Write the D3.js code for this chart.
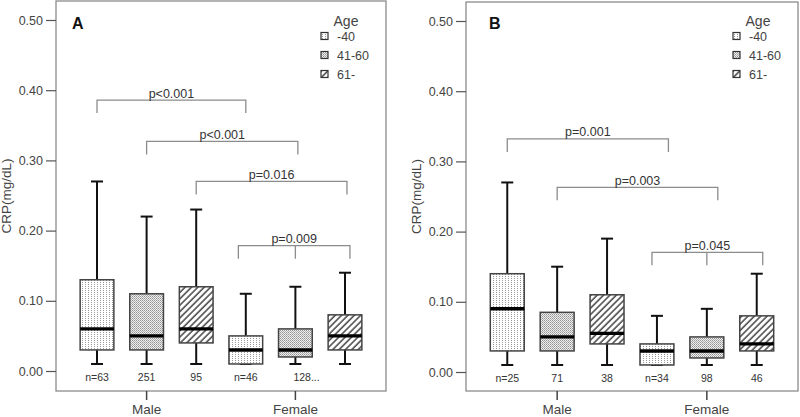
<!DOCTYPE html>
<html>
<head>
<meta charset="utf-8">
<script src="https://cdn.jsdelivr.net/npm/d3@7"></script>
<style>
  body { margin: 0; background: #fff; }
  svg { display: block; font-family: "Liberation Sans", Arial, sans-serif; }
</style>
</head>
<body>
<div id="chart"></div>
<script>
const sexes = ["Male", "Female"];
const ages = ["-40", "41-60", "61-"];
const yTicks = [0, 0.1, 0.2, 0.3, 0.4, 0.5];

// [min, q1, median, q3, max] for Male -40, 41-60, 61-, Female -40, 41-60, 61-
const statsA = [
    [0.01, 0.03, 0.06, 0.13, 0.27],
    [0.01, 0.03, 0.05, 0.11, 0.22],
    [0.01, 0.04, 0.06, 0.12, 0.23],
    [0.01, 0.01, 0.03, 0.05, 0.11],
    [0.01, 0.02, 0.03, 0.06, 0.12],
    [0.01, 0.03, 0.05, 0.08, 0.14]
];
const statsB = [
    [0.01, 0.03, 0.09, 0.14, 0.27],
    [0.01, 0.03, 0.05, 0.085, 0.15],
    [0.01, 0.04, 0.055, 0.11, 0.19],
    [0.01, 0.01, 0.03, 0.04, 0.08],
    [0.01, 0.02, 0.03, 0.05, 0.09],
    [0.01, 0.03, 0.04, 0.08, 0.14]
];
const nA = ["n=63", "251", "95", "n=46", "128...", ""];
const nB = ["n=25", "71", "38", "n=34", "98", "46"];

// brackets: ends in box index units, level in CRP units
const bracketsA = [
    { label: "p<0.001", ends: [0, 3], level: 0.386 },
    { label: "p<0.001", ends: [1, 4.05], level: 0.327 },
    { label: "p=0.016", ends: [2, 5.04], level: 0.270 },
    { label: "p=0.009", ends: [2.85, 4, 5.1], level: 0.1785 }
];
const bracketsB = [
    { label: "p=0.001", ends: [0, 3.23], level: 0.332 },
    { label: "p=0.003", ends: [1, 4.22], level: 0.263 },
    { label: "p=0.045", ends: [2.9, 4, 5.12], level: 0.1705 }
];

const width = 800, height = 417;

const svg = d3.select("#chart").append("svg")
    .attr("width", width)
    .attr("height", height);

svg.append("rect").attr("width", width).attr("height", height).attr("fill", "#fff");

// fill patterns
const defs = svg.append("defs");

const p1 = defs.append("pattern")
    .attr("id", "pat-40")
    .attr("patternUnits", "userSpaceOnUse")
    .attr("width", 3).attr("height", 2);
p1.append("rect").attr("width", 3).attr("height", 2).attr("fill", "#fff");
p1.append("rect").attr("x", 1).attr("y", 0).attr("width", 1).attr("height", 1).attr("fill", "#9a9a9a");

const p2 = defs.append("pattern")
    .attr("id", "pat-4160")
    .attr("patternUnits", "userSpaceOnUse")
    .attr("width", 2).attr("height", 2);
p2.append("rect").attr("width", 2).attr("height", 2).attr("fill", "#eeeeee");
p2.append("rect").attr("x", 0).attr("y", 0).attr("width", 1).attr("height", 1).attr("fill", "#939393");
p2.append("rect").attr("x", 1).attr("y", 1).attr("width", 1).attr("height", 1).attr("fill", "#b0b0b0");

const p3 = defs.append("pattern")
    .attr("id", "pat-61")
    .attr("patternUnits", "userSpaceOnUse")
    .attr("width", 4.5).attr("height", 4.5)
    .attr("patternTransform", "rotate(45)");
p3.append("rect").attr("width", 4.5).attr("height", 4.5).attr("fill", "#fff");
p3.append("line")
    .attr("x1", 1).attr("y1", 0).attr("x2", 1).attr("y2", 4.5)
    .attr("stroke", "#444").attr("stroke-width", 1.5);

const ageFill = { "-40": "url(#pat-40)", "41-60": "url(#pat-4160)", "61-": "url(#pat-61)" };

const panels = [
    { name: "A", stats: statsA, n: nA, brackets: bracketsA,
      left: 56, right: 386, top: 1, bottom: 391, yZero: 371, yTop: 20, nameDx: 16, axisLabelX: 11 },
    { name: "B", stats: statsB, n: nB, brackets: bracketsB,
      left: 466, right: 798, top: 2, bottom: 391, yZero: 372, yTop: 21, nameDx: 23, axisLabelX: 421 }
];

panels.forEach(drawPanel);

function drawPanel(p) {
    const g = svg.append("g");

    const y = d3.scaleLinear().domain([0, 0.5]).range([p.yZero, p.yTop]);

    const x0 = d3.scaleBand().domain(sexes).range([p.left, p.right])
        .paddingInner(0).paddingOuter(0.109);
    const x1 = d3.scaleBand().domain(ages).range([0, x0.bandwidth()])
        .paddingInner(0.32).paddingOuter(0.16);

    const boxes = [];
    sexes.forEach((s, si) => {
        ages.forEach((a, ai) => {
            const i = si * ages.length + ai;
            const st = p.stats[i];
            boxes.push({ sex: s, age: a, n: p.n[i],
                min: st[0], q1: st[1], med: st[2], q3: st[3], max: st[4] });
        });
    });
    const cx = d => x0(d.sex) + x1(d.age) + x1.bandwidth() / 2;
    const idx = d3.scaleLinear().domain([0, boxes.length - 1])
        .range([cx(boxes[0]), cx(boxes[boxes.length - 1])]);

    // frame
    g.append("rect")
        .attr("x", p.left).attr("y", p.top)
        .attr("width", p.right - p.left).attr("height", p.bottom - p.top)
        .attr("fill", "none").attr("stroke", "#8c8c8c").attr("stroke-width", 1.3);

    // y axis
    const yAxis = g.append("g")
        .attr("transform", `translate(${p.left},0)`)
        .call(d3.axisLeft(y).tickValues(yTicks).tickFormat(d3.format(".2f")).tickSize(10).tickPadding(3));
    yAxis.select(".domain").remove();
    yAxis.selectAll(".tick line").attr("stroke", "#555").attr("stroke-width", 1.2);
    yAxis.selectAll(".tick text")
        .attr("fill", "#444")
        .style("font-size", "12.5px")
        .style("font-family", "'Liberation Sans', Arial, sans-serif");

    g.append("text")
        .attr("transform", `translate(${p.axisLabelX},${(p.top + p.bottom) / 2}) rotate(-90)`)
        .attr("text-anchor", "middle")
        .attr("fill", "#444")
        .style("font-size", "13.5px")
        .text("CRP(mg/dL)");

    // x axis
    const xAxis = g.append("g")
        .attr("transform", `translate(0,${p.bottom})`)
        .call(d3.axisBottom(x0).tickSize(9).tickPadding(4));
    xAxis.select(".domain").remove();
    xAxis.selectAll(".tick line").attr("stroke", "#444").attr("stroke-width", 1.5);
    xAxis.selectAll(".tick text")
        .attr("fill", "#444")
        .style("font-size", "13.5px")
        .style("font-family", "'Liberation Sans', Arial, sans-serif");

    // whiskers
    const bw = x1.bandwidth();
    const capW = 12;
    const bg = g.selectAll("g.box").data(boxes).join("g").attr("class", "box");

    bg.append("line")
        .attr("x1", cx).attr("x2", cx)
        .attr("y1", d => y(d.max)).attr("y2", d => y(d.min))
        .attr("stroke", "#111").attr("stroke-width", 2);
    bg.append("line")
        .attr("x1", d => cx(d) - capW / 2).attr("x2", d => cx(d) + capW / 2)
        .attr("y1", d => y(d.max)).attr("y2", d => y(d.max))
        .attr("stroke", "#111").attr("stroke-width", 2);
    bg.append("line")
        .attr("x1", d => cx(d) - capW / 2).attr("x2", d => cx(d) + capW / 2)
        .attr("y1", d => y(d.min)).attr("y2", d => y(d.min))
        .attr("stroke", "#111").attr("stroke-width", 2);

    bg.append("rect")
        .attr("x", d => cx(d) - bw / 2)
        .attr("y", d => y(d.q3))
        .attr("width", bw)
        .attr("height", d => y(d.q1) - y(d.q3))
        .attr("fill", d => ageFill[d.age])
        .attr("stroke", "#444").attr("stroke-width", 1.5);

    bg.append("line")
        .attr("x1", d => cx(d) - bw / 2).attr("x2", d => cx(d) + bw / 2)
        .attr("y1", d => y(d.med)).attr("y2", d => y(d.med))
        .attr("stroke", "#000").attr("stroke-width", 3.4);

    bg.append("text")
        .attr("x", d => d.n.endsWith("...") ? cx(d) - 2 : cx(d))
        .attr("y", y(0) + 9.5)
        .attr("text-anchor", d => d.n.endsWith("...") ? "start" : "middle")
        .attr("fill", "#333")
        .style("font-size", "10.5px")
        .text(d => d.n);

    // significance brackets
    const drop = 13;
    p.brackets.forEach(b => {
        const xs = b.ends.map(idx);
        const ly = y(b.level);
        const xl = xs[0], xr = xs[xs.length - 1];
        let path = `M${xl},${ly + drop}V${ly}H${xr}V${ly + drop}`;
        if (xs.length > 2) path += `M${xs[1]},${ly}V${ly + drop}`;
        g.append("path")
            .attr("d", path)
            .attr("fill", "none")
            .attr("stroke", "#8c8c8c")
            .attr("stroke-width", 1.3);
        g.append("text")
            .attr("x", (xl + xr) / 2)
            .attr("y", ly - 2.5)
            .attr("text-anchor", "middle")
            .attr("fill", "#333")
            .style("font-size", "12.5px")
            .text(b.label);
    });

    // panel letter
    g.append("text")
        .attr("x", p.left + p.nameDx)
        .attr("y", 29)
        .attr("font-weight", "bold")
        .attr("fill", "#111")
        .style("font-size", "16px")
        .text(p.name);

    // legend
    const lg = g.append("g").attr("transform", `translate(${p.right - 65},0)`);
    lg.append("text")
        .attr("x", 25).attr("y", 26)
        .attr("text-anchor", "middle")
        .attr("fill", "#444")
        .style("font-size", "14px")
        .text("Age");
    ages.forEach((a, i) => {
        const cy = 36 + i * 19;
        lg.append("rect")
            .attr("x", 0).attr("y", cy - 3.5)
            .attr("width", 7).attr("height", 7)
            .attr("fill", ageFill[a])
            .attr("stroke", "#333").attr("stroke-width", 1.2);
        lg.append("text")
            .attr("x", 16).attr("y", cy + 4.5)
            .attr("fill", "#444")
            .style("font-size", "12.5px")
            .text(a);
    });
}
</script>
</body>
</html>
